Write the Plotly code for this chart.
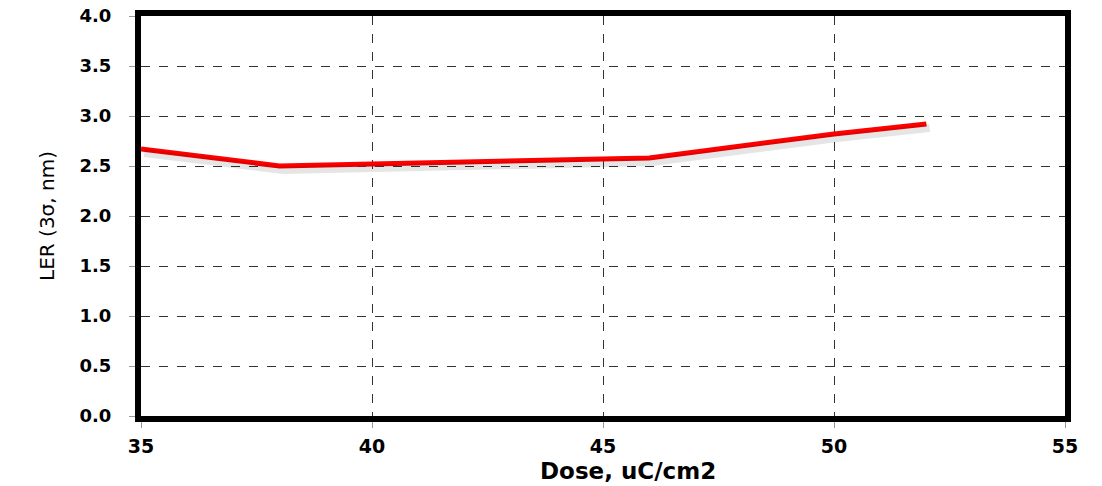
import plotly.graph_objects as go

# LER vs exposure dose
dose = [35, 38, 40, 46, 50, 52]
ler = [2.67, 2.50, 2.52, 2.58, 2.82, 2.92]

x_ticks = [35, 40, 45, 50, 55]
y_ticks = [0.0, 0.5, 1.0, 1.5, 2.0, 2.5, 3.0, 3.5, 4.0]
y_tick_text = [f"{v:.1f}" for v in y_ticks]

y_tick_font = dict(family="DejaVu Sans", size=18, color="black", weight="bold")
x_tick_font = dict(family="DejaVu Sans", size=19, color="black", weight="bold")

fig = go.Figure()

# soft drop shadow under the curve (same data on slightly offset overlay axes)
fig.add_trace(go.Scatter(
    x=dose, y=ler, mode="lines", xaxis="x2", yaxis="y2",
    line=dict(color="rgba(0,0,0,0.10)", width=8), hoverinfo="skip",
    showlegend=False,
))
fig.add_trace(go.Scatter(
    x=dose, y=ler, mode="lines",
    line=dict(color="#ff0000", width=5), showlegend=False,
))

grid = dict(showgrid=True, gridcolor="#333333", gridwidth=1, griddash="dash")

fig.update_layout(
    width=1102, height=486,
    margin=dict(l=141, r=37, t=16, b=70, autoexpand=False),
    paper_bgcolor="white", plot_bgcolor="white",
    xaxis=dict(
        range=[35, 55], tickvals=x_ticks, ticktext=[str(v) for v in x_ticks],
        tickfont=x_tick_font, ticks="outside", ticklen=6, tickcolor="#999999",
        showline=True, linecolor="black", linewidth=6, mirror=True,
        zeroline=False, ticklabelstandoff=2, automargin=False, **grid,
    ),
    yaxis=dict(
        range=[0, 4], tickvals=y_ticks, ticktext=y_tick_text,
        tickfont=y_tick_font, ticks="outside", ticklen=6, tickcolor="#999999",
        showline=True, linecolor="black", linewidth=6, mirror=True,
        zeroline=False, ticklabelstandoff=14, automargin=False,
        title=dict(text="LER (3σ, nm)", standoff=22,
                   font=dict(family="DejaVu Sans", size=20, color="black")),
        **grid,
    ),
    xaxis2=dict(range=[34.93, 54.93], overlaying="x", visible=False),
    yaxis2=dict(range=[0.04, 4.04], overlaying="y", visible=False),
    annotations=[dict(
        text="Dose, uC/cm2", xref="paper", yref="paper", x=0.527, y=0,
        yshift=-40, xanchor="center", yanchor="top", showarrow=False,
        font=dict(family="DejaVu Sans", size=23, color="black", weight="bold"),
    )],
)

fig.write_html("out.html")
